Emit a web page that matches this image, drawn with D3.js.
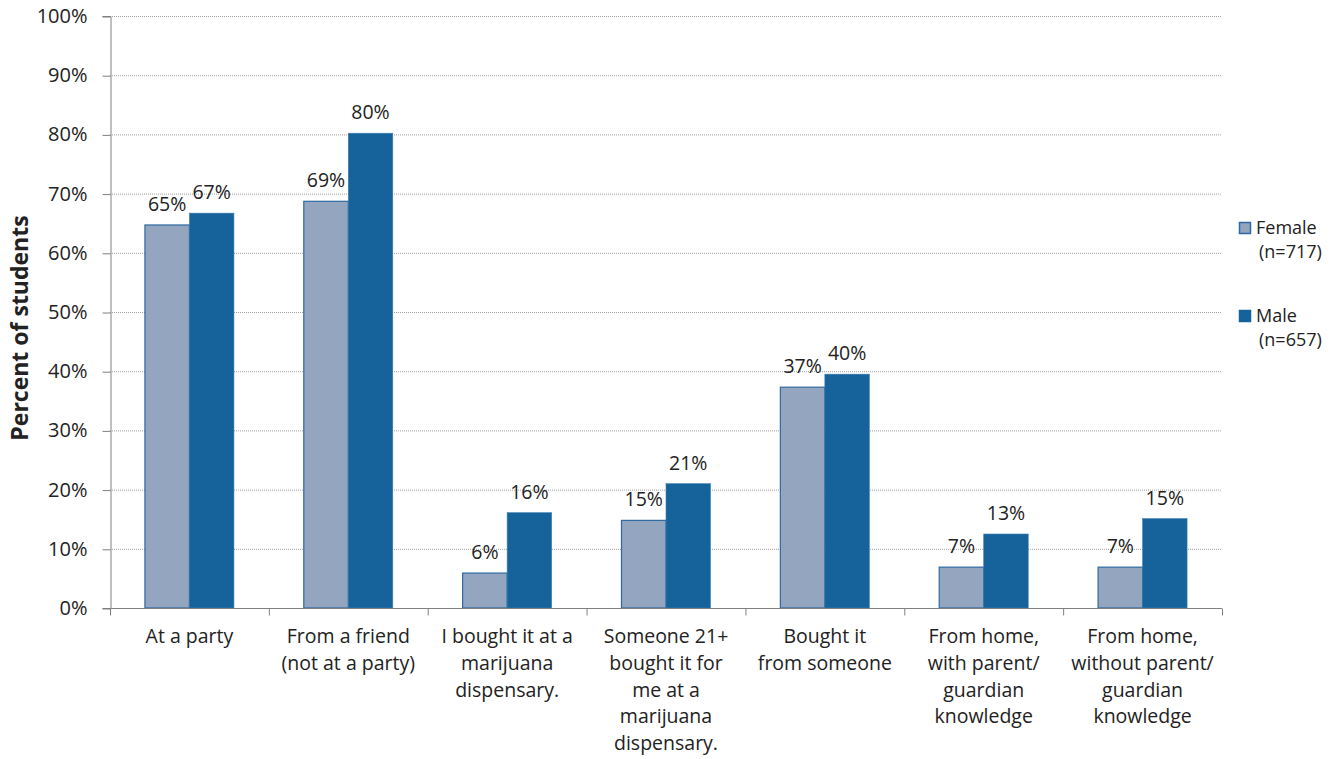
<!DOCTYPE html>
<html><head><meta charset="utf-8">
<script src="https://cdn.jsdelivr.net/npm/d3@7"></script>
<style>body{margin:0;background:#fff;} text{font-family:"Open Sans",sans-serif;fill:#222;}</style>
</head><body>
<svg id="c" width="1333" height="759"></svg>
<script>
const categories = [
  ["At a party"],
  ["From a friend","(not at a party)"],
  ["I bought it at a","marijuana","dispensary."],
  ["Someone 21+","bought it for","me at a","marijuana","dispensary."],
  ["Bought it","from someone"],
  ["From home,","with parent/","guardian","knowledge"],
  ["From home,","without parent/","guardian","knowledge"]
];
const female = [64.7, 68.7, 5.9, 14.8, 37.3, 6.9, 6.9];
const male = [66.7, 80.2, 16.1, 21.0, 39.5, 12.5, 15.1];
const femaleLabels = ["65%","69%","6%","15%","37%","7%","7%"];
const maleLabels = ["67%","80%","16%","21%","40%","13%","15%"];
const yTicks = [0,10,20,30,40,50,60,70,80,90,100];
const seriesNames = [["Female","(n=717)"],["Male","(n=657)"]];

const FS = "19.5px";
const svg = d3.select("#c");
const L=110, R=1222, T=16, B=608;
const x = d3.scaleBand().domain(d3.range(categories.length)).range([L,R]).paddingInner(0).paddingOuter(0);
const bw = 44.5;
const y = d3.scaleLinear().domain([0,100]).range([B,T]);

// gridlines
svg.append("g").selectAll("line").data(yTicks.filter(d=>d>0)).join("line")
  .attr("x1",L).attr("x2",R).attr("y1",d=>y(d)+0.5).attr("y2",d=>y(d)+0.5)
  .attr("stroke","#a0a0a0").attr("stroke-width",1).attr("stroke-dasharray","1,1");

// y axis
const ya = svg.append("g").attr("transform",`translate(${L+0.5},0)`)
  .call(d3.axisLeft(y).tickValues(yTicks).tickFormat(d=>d+"%").tickSize(8).tickPadding(15));
ya.select(".domain").attr("stroke","#808080");
ya.selectAll(".tick line").attr("stroke","#808080").attr("transform","translate(0,0.5)");
ya.selectAll("text").style("font-size","20px").attr("fill","#222");

// bars
const g = svg.append("g");
g.selectAll("rect.f").data(female).join("rect").attr("class","f")
  .attr("x",(d,i)=>x(i)+x.bandwidth()/2-bw).attr("width",bw)
  .attr("y",d=>y(d)).attr("height",d=>B-y(d))
  .attr("fill","#94a5bf").attr("stroke","#2e6aa1").attr("stroke-width",1.2);
g.selectAll("rect.m").data(male).join("rect").attr("class","m")
  .attr("x",(d,i)=>x(i)+x.bandwidth()/2).attr("width",bw)
  .attr("y",d=>y(d)).attr("height",d=>B-y(d))
  .attr("fill","#16629a").attr("stroke","#3c7fb5").attr("stroke-width",0.6);

// value labels
g.selectAll("text.fl").data(female).join("text").attr("class","fl")
  .attr("x",(d,i)=>x(i)+x.bandwidth()/2-bw/2).attr("y",d=>y(d)-14)
  .attr("text-anchor","middle").style("font-size",FS).text((d,i)=>femaleLabels[i]);
g.selectAll("text.ml").data(male).join("text").attr("class","ml")
  .attr("x",(d,i)=>x(i)+x.bandwidth()/2+bw/2).attr("y",d=>y(d)-14)
  .attr("text-anchor","middle").style("font-size",FS).text((d,i)=>maleLabels[i]);

// x axis
const xa = svg.append("g").attr("transform",`translate(0,${B+0.5})`);
xa.append("line").attr("x1",L).attr("x2",R).attr("stroke","#808080");
xa.selectAll("line.t").data(d3.range(categories.length+1)).join("line").attr("class","t")
  .attr("x1",i=>(i<categories.length?x(i):R)+0.5).attr("x2",i=>(i<categories.length?x(i):R)+0.5)
  .attr("y1",0).attr("y2",7).attr("stroke","#808080");
const cl = svg.append("g");
categories.forEach((lines,i)=>{
  const t = cl.append("text").attr("text-anchor","middle").style("font-size","19.5px")
    .attr("transform",`translate(${x(i)+x.bandwidth()/2},643)`);
  lines.forEach((s,j)=>t.append("tspan").attr("x",0).attr("y",j*26.8).text(s));
});

// y title
svg.append("text").attr("transform","translate(28,328) rotate(-90)")
  .attr("text-anchor","middle").style("font-size","23px").style("font-weight","bold").text("Percent of students");

// legend
const cols = [["#94a5bf","#2e6aa1"],["#16629a","#16629a"]];
const lg = svg.append("g");
seriesNames.forEach((s,i)=>{
  const yy = 222 + i*88;
  lg.append("rect").attr("x",1239.5).attr("y",yy+0.5).attr("width",11).attr("height",11)
    .attr("fill",cols[i][0]).attr("stroke",cols[i][1]).attr("stroke-width",1.5);
  lg.append("text").attr("x",1256).attr("y",yy+12).style("font-size","18px").text(s[0]);
  lg.append("text").attr("x",1259).attr("y",yy+36).style("font-size","18px").text(s[1]);
});
</script>
</body></html>
